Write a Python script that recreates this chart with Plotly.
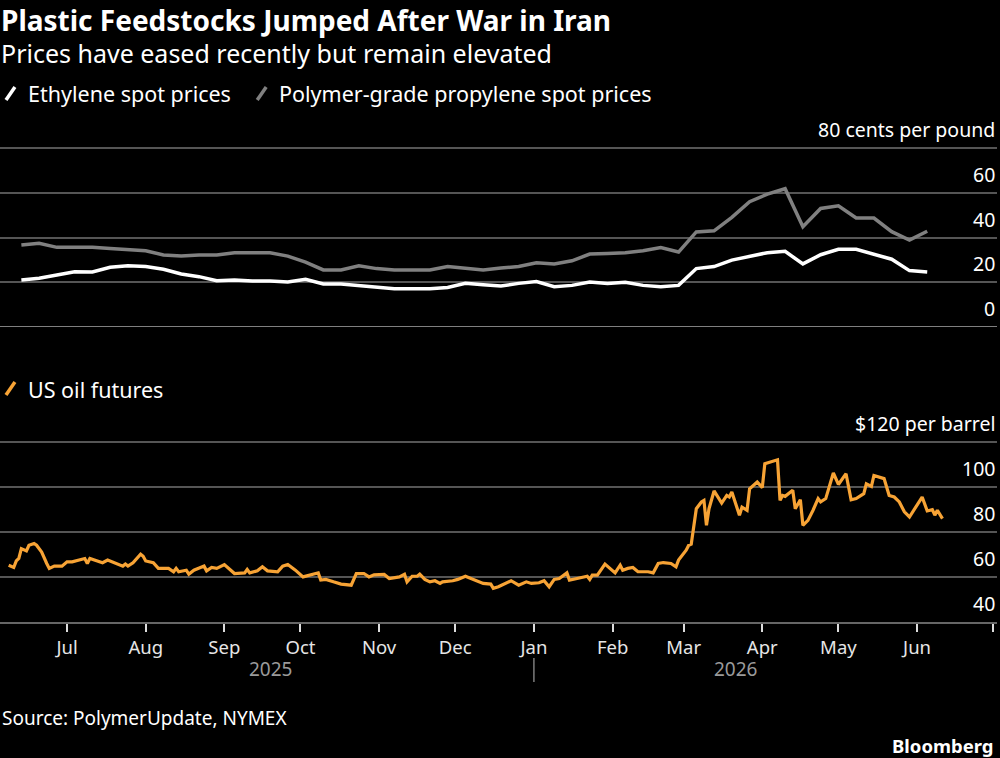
import pandas as pd
import plotly.graph_objects as go

# ---------------- data ----------------
week_start = "2025-06-13"
ethylene = [21.0, 21.8, 23.2, 24.7, 24.6, 26.7, 27.4, 27.0, 25.8, 23.7, 22.5, 20.7, 21.0, 20.6,
            20.6, 20.1, 21.3, 19.2, 19.2, 18.6, 18.0, 17.1, 17.1, 17.1, 17.7, 19.5, 18.9, 18.3,
            19.5, 20.3, 18.0, 18.6, 20.1, 19.5, 20.0, 18.6, 18.0, 18.6, 26.1, 27.0, 29.9, 31.4,
            33.2, 33.8, 28.2, 32.3, 34.7, 34.7, 32.3, 30.3, 25.2, 24.6]
propylene = [36.6, 37.4, 35.6, 35.6, 35.6, 35.1, 34.6, 34.1, 32.2, 31.7, 32.2, 32.2, 33.2, 33.2,
             33.2, 31.7, 29.0, 25.5, 25.5, 27.4, 26.1, 25.5, 25.5, 25.5, 27.0, 26.1, 25.5, 26.4,
             27.0, 28.7, 28.2, 29.6, 32.6, 32.9, 33.2, 34.1, 35.5, 33.5, 42.5, 43.0, 49.0, 56.0,
             59.4, 61.8, 44.8, 53.0, 54.2, 48.7, 48.7, 42.6, 38.9, 42.8]
week_dates = pd.date_range(week_start, periods=len(ethylene), freq="7D")

oil_dates = [
    "2025-06-08", "2025-06-10", "2025-06-11", "2025-06-12", "2025-06-13", "2025-06-15", "2025-06-16",
    "2025-06-18", "2025-06-19", "2025-06-21", "2025-06-23", "2025-06-24", "2025-06-26", "2025-06-29",
    "2025-07-01", "2025-07-03", "2025-07-08", "2025-07-09", "2025-07-10", "2025-07-13", "2025-07-15",
    "2025-07-17", "2025-07-20", "2025-07-23", "2025-07-24", "2025-07-25", "2025-07-27", "2025-07-30",
    "2025-07-31", "2025-08-01", "2025-08-04", "2025-08-06", "2025-08-10", "2025-08-12", "2025-08-13",
    "2025-08-14", "2025-08-17", "2025-08-18", "2025-08-20", "2025-08-24", "2025-08-25", "2025-08-27",
    "2025-08-29", "2025-09-01", "2025-09-05", "2025-09-09", "2025-09-10", "2025-09-11", "2025-09-14",
    "2025-09-16", "2025-09-18", "2025-09-22", "2025-09-24", "2025-09-26", "2025-09-29", "2025-10-02",
    "2025-10-07", "2025-10-08", "2025-10-09", "2025-10-11", "2025-10-14", "2025-10-17", "2025-10-21",
    "2025-10-22", "2025-10-23", "2025-10-26", "2025-10-28", "2025-10-30", "2025-11-03", "2025-11-05",
    "2025-11-09", "2025-11-11", "2025-11-12", "2025-11-14", "2025-11-16", "2025-11-17", "2025-11-19",
    "2025-11-21", "2025-11-23", "2025-11-25", "2025-11-26", "2025-11-30", "2025-12-02", "2025-12-05",
    "2025-12-07", "2025-12-10", "2025-12-12", "2025-12-15", "2025-12-16", "2025-12-18", "2025-12-21",
    "2025-12-23", "2025-12-26", "2025-12-29", "2025-12-31", "2026-01-03", "2026-01-05", "2026-01-07",
    "2026-01-09", "2026-01-11", "2026-01-14", "2026-01-15", "2026-01-18", "2026-01-22", "2026-01-23",
    "2026-01-24", "2026-01-26", "2026-01-29", "2026-02-02", "2026-02-04", "2026-02-05", "2026-02-07",
    "2026-02-09", "2026-02-11", "2026-02-15", "2026-02-17", "2026-02-19", "2026-02-21", "2026-02-24",
    "2026-02-26", "2026-02-27", "2026-03-02", "2026-03-03", "2026-03-04", "2026-03-06", "2026-03-08",
    "2026-03-09", "2026-03-10", "2026-03-11", "2026-03-13", "2026-03-16", "2026-03-18", "2026-03-19",
    "2026-03-20", "2026-03-23", "2026-03-24", "2026-03-26", "2026-03-27", "2026-03-30", "2026-04-01",
    "2026-04-02", "2026-04-07", "2026-04-08", "2026-04-09", "2026-04-10", "2026-04-13", "2026-04-14",
    "2026-04-16", "2026-04-17", "2026-04-19", "2026-04-21", "2026-04-23", "2026-04-24", "2026-04-26",
    "2026-04-29", "2026-05-01", "2026-05-04", "2026-05-06", "2026-05-08", "2026-05-11", "2026-05-12",
    "2026-05-14", "2026-05-15", "2026-05-19", "2026-05-21", "2026-05-23", "2026-05-25", "2026-05-27",
    "2026-05-29", "2026-06-03", "2026-06-05", "2026-06-07", "2026-06-08", "2026-06-09", "2026-06-11",
]
oil_values = [
    65.3, 64.3, 67.2, 68.3, 72.7, 71.7, 74.2,
    75.0, 74.2, 71.2, 66.1, 63.9, 64.9, 64.9,
    66.8, 66.8, 68.3, 66.1, 68.3, 67.1, 66.4,
    67.6, 66.4, 64.9, 65.8, 64.9, 66.4, 70.2,
    69.3, 67.2, 66.4, 63.9, 63.9, 62.4, 63.9,
    62.4, 63.1, 61.3, 63.1, 64.9, 62.8, 64.3,
    63.9, 65.6, 61.6, 61.9, 63.4, 61.9, 62.8,
    64.6, 62.8, 62.4, 64.9, 65.6, 63.1, 60.1,
    61.6, 61.9, 58.7, 59.0, 57.9, 56.9, 56.4,
    58.7, 61.6, 61.6, 60.1, 61.0, 61.2, 59.4,
    60.1, 61.3, 57.9, 60.4, 60.4, 61.3, 59.0,
    57.9, 58.4, 57.2, 57.9, 58.4, 59.0, 60.4,
    59.4, 57.9, 57.2, 56.9, 55.0, 55.7, 57.2,
    58.4, 56.4, 57.9, 57.2, 57.5, 58.4, 55.7,
    59.0, 59.4, 61.9, 58.7, 59.4, 60.4, 59.0,
    60.9, 60.9, 65.8, 61.9, 65.3, 63.1, 63.9,
    64.3, 62.4, 62.4, 61.9, 66.1, 66.5, 66.1,
    64.6, 67.6, 72.0, 74.2, 74.7, 90.5, 93.5,
    94.2, 83.1, 90.5, 98.4, 93.0, 96.4, 95.7,
    97.9, 87.6, 91.2, 89.8, 99.4, 102.4, 99.9,
    110.5, 112.3, 94.2, 96.4, 96.0, 98.7, 90.5,
    94.5, 83.1, 85.3, 89.8, 95.0, 93.5, 95.0,
    106.4, 101.3, 106.1, 94.5, 95.0, 97.2, 101.6,
    100.4, 105.3, 103.9, 96.4, 95.7, 93.5, 89.1,
    86.8, 95.7, 89.5, 90.1, 87.6, 89.8, 86.1,
]

top_ticks = [0, 20, 40, 60, 80]
top_ticktext = ["0", "20", "40", "60", "80 cents per pound"]
bottom_ticks = [40, 60, 80, 100, 120]
bottom_ticktext = ["40", "60", "80", "100", "$120 per barrel"]

# ---------------- layout helpers ----------------
W, H = 1000, 758
FONT = "Noto Sans"
BG = "#000000"
GRID = "#555555"
ORANGE = "#f7a335"
GRAY = "#808080"


def px(x):
    return x / W


def py(y):
    return 1 - y / H


fig = go.Figure()

fig.add_trace(go.Scatter(x=week_dates, y=propylene, mode="lines", name="Polymer-grade propylene spot prices",
                         line=dict(color=GRAY, width=3.5), xaxis="x", yaxis="y2", showlegend=False))
fig.add_trace(go.Scatter(x=week_dates, y=ethylene, mode="lines", name="Ethylene spot prices",
                         line=dict(color="#ffffff", width=3.5), xaxis="x", yaxis="y2", showlegend=False))
fig.add_trace(go.Scatter(x=pd.to_datetime(oil_dates), y=oil_values, mode="lines", name="US oil futures",
                         line=dict(color=ORANGE, width=3.2), xaxis="x", yaxis="y", showlegend=False))

x_range = ["2025-06-04 14:00", "2026-07-02 12:00"]

# top panel: 0 at y=327px, 80 at y=148px; extend slightly so the top gridline is drawn
top_ppu = (327 - 148) / 80
bot_ppu = (622 - 442.5) / 80
EXT = 1.0

fig.update_layout(
    width=W, height=H,
    margin=dict(l=0, r=3, t=0, b=0),
    paper_bgcolor=BG, plot_bgcolor=BG,
    font=dict(family=FONT, color="#ffffff"),
    xaxis=dict(range=x_range, type="date", domain=[0, 1], anchor="y",
               showgrid=False, zeroline=False, showline=True, linecolor="#666666", linewidth=1.5,
               ticks="outside", ticklen=8, tickwidth=1.5, tickcolor="#dddddd",
               dtick="M1", tick0="2025-07-01", tickformat="%b",
               tickfont=dict(size=18.5, color="#e6e6e6", family=FONT)),
    yaxis=dict(domain=[py(622), py(442.5 - EXT * bot_ppu)], range=[40, 120 + EXT], tickvals=bottom_ticks,
               showticklabels=False, showgrid=True, gridcolor=GRID, gridwidth=1.5,
               zeroline=False, showline=False, fixedrange=True),
    yaxis2=dict(domain=[py(327), py(148 - EXT * top_ppu)], range=[0, 80 + EXT], tickvals=top_ticks,
                showticklabels=False, showgrid=True, gridcolor=GRID, gridwidth=1.5,
                zeroline=False, showline=False),
    showlegend=False,
)

ann = []
shapes = []

# y tick labels (above gridlines, right-aligned)
for v, t in zip(top_ticks, top_ticktext):
    ann.append(dict(x=1, xref="paper", y=v, yref="y2", text=t, showarrow=False,
                    xanchor="right", yanchor="bottom", yshift=3,
                    font=dict(size=19.5, color="#ffffff", family=FONT)))
for v, t in zip(bottom_ticks, bottom_ticktext):
    ann.append(dict(x=1, xref="paper", y=v, yref="y", text=t, showarrow=False,
                    xanchor="right", yanchor="bottom", yshift=3,
                    font=dict(size=19.5, color="#ffffff", family=FONT)))

# brighter zero line of top panel
shapes.append(dict(type="line", xref="paper", yref="y2", x0=0, x1=1, y0=0, y1=0,
                   line=dict(color="#aaaaaa", width=1.5)))

# title / subtitle
ann.append(dict(x=0, y=1, xref="paper", yref="paper", xanchor="left", yanchor="top",
                text="<b>Plastic Feedstocks Jumped After War in Iran</b>", showarrow=False,
                borderpad=0, font=dict(size=28, color="#ffffff", family=FONT)))
ann.append(dict(x=0, y=py(35), xref="paper", yref="paper", xanchor="left", yanchor="top",
                text="Prices have eased recently but remain elevated", showarrow=False,
                borderpad=0, font=dict(size=25, color="#ffffff", family=FONT)))


# legends
def legend_item(x_icon, y_center, color, label):
    shapes.append(dict(type="line", xref="paper", yref="paper",
                       x0=px(x_icon), y0=py(y_center + 6), x1=px(x_icon + 9), y1=py(y_center - 7),
                       line=dict(color=color, width=3.5)))
    ann.append(dict(x=px(x_icon + 20), y=py(y_center), xref="paper", yref="paper",
                    xanchor="left", yanchor="middle", text=label, showarrow=False,
                    font=dict(size=21.5, color="#ffffff", family=FONT)))


legend_item(6, 94, "#ffffff", "Ethylene spot prices")
legend_item(258, 94, GRAY, "Polymer-grade propylene spot prices")
legend_item(6, 389, ORANGE, "US oil futures")

# year labels and separator
ann.append(dict(x=px(271), y=py(669), xref="paper", yref="paper", text="2025", showarrow=False,
                xanchor="center", yanchor="middle", font=dict(size=19, color="#9a9a9a", family=FONT)))
ann.append(dict(x=px(738), y=py(669), xref="paper", yref="paper", text="2026", showarrow=False,
                xanchor="center", yanchor="middle", font=dict(size=19, color="#9a9a9a", family=FONT)))
shapes.append(dict(type="line", xref="x", yref="paper", x0="2026-01-01", x1="2026-01-01",
                   y0=py(658), y1=py(682), line=dict(color="#9a9a9a", width=1.2)))

# source and branding
ann.append(dict(x=0, y=py(718), xref="paper", yref="paper", xanchor="left", yanchor="middle",
                text="Source: PolymerUpdate, NYMEX", showarrow=False,
                font=dict(size=19, color="#ffffff", family=FONT)))
ann.append(dict(x=px(999), y=py(745), xref="paper", yref="paper", xanchor="right", yanchor="middle",
                text="<b>Bloomberg</b>", showarrow=False,
                font=dict(size=18.5, color="#ffffff", family=FONT)))

fig.update_layout(annotations=ann, shapes=shapes)

fig.write_html("out.html")
